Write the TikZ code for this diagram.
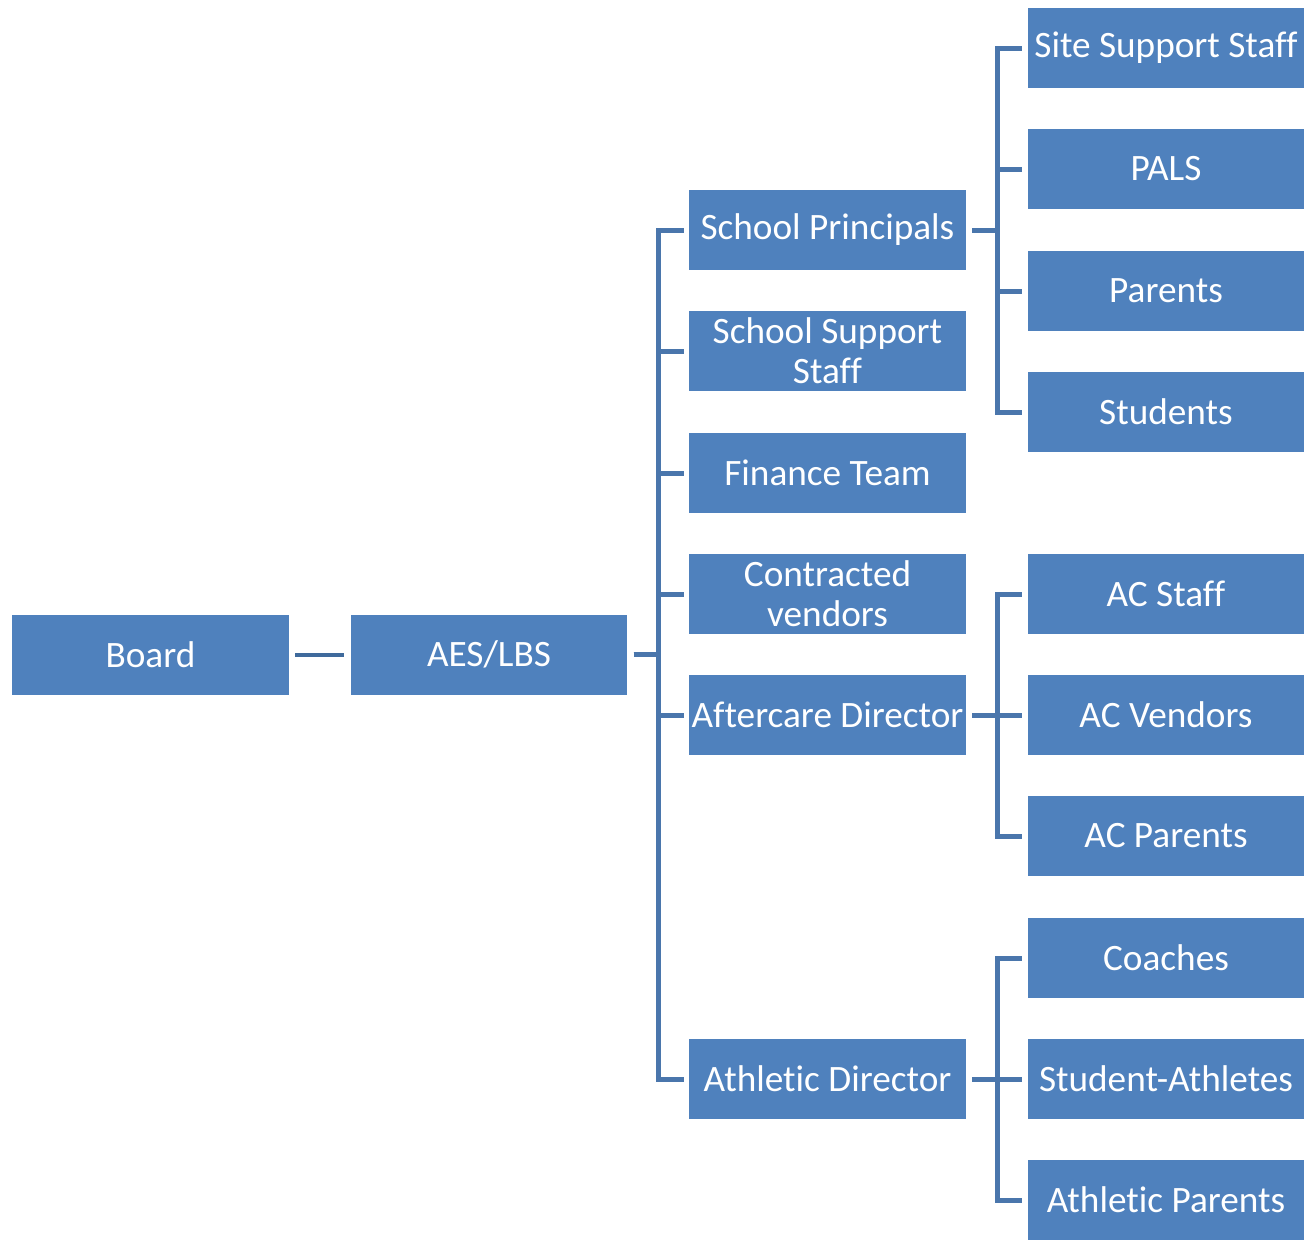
\documentclass[tikz,border=0pt]{standalone}
\usepackage{fontspec}
\setmainfont{Carlito}[Ligatures=CommonOff]
\usetikzlibrary{calc}

\definecolor{boxblue}{HTML}{4F81BD}
\definecolor{lineblue}{HTML}{4A76AC}
\definecolor{darkline}{HTML}{3F6A9C}

\begin{document}
\begin{tikzpicture}
[x=0.02cm,y=-0.02cm,
	every node/.style={shape=rectangle,fill=boxblue,text=white,inner
	sep=0pt,minimum width=5.54cm,minimum height=1.6cm,align=center,
	font=\fontsize{21.2}{22.8}\selectfont},
	conn/.style={draw=lineblue,line width=0.1cm}]
\useasboundingbox (0,0) rectangle (1308,1241);

% first two levels
\node (board) at (150.5,654.5) {Board};
\node (aes) at (489,654.5) {AES/LBS};

% second column
\node (princ) at (827.5,230) {School Principals};
\node (supp) at (827.5,351) {School Support\\Staff};
\node (fin) at (827.5,473) {Finance Team};
\node (vend) at (827.5,594) {Contracted\\vendors};
\node (after) at (827.5,715) {Aftercare Director};
\node (athl) at (827.5,1079) {Athletic Director};

% third column
\node (site) at (1166,48) {Site Support Staff};
\node (pals) at (1166,169) {PALS};
\node (par) at (1166,291) {Parents};
\node (stud) at (1166,412) {Students};
\node (acs) at (1166,594) {AC Staff};
\node (acv) at (1166,715) {AC Vendors};
\node (acp) at (1166,836) {AC Parents};
\node (coach) at (1166,958) {Coaches};
\node (sath) at (1166,1079) {Student-Athletes};
\node (apar) at (1166,1200) {Athletic Parents};

\draw[draw=darkline,line width=0.08cm] ([xshift=0.12cm]board.east) -- ([xshift=-0.12cm]aes.west);

\foreach \startNode/\endNode in {aes/princ,aes/supp,aes/fin,aes/vend,aes/after,aes/athl,
	princ/site,princ/pals,princ/par,princ/stud,
	after/acs,after/acv,after/acp,
	athl/coach,athl/sath,athl/apar}
{
	\draw[conn] ([xshift=0.12cm]\startNode.east) -- ++(25,0) |- ([xshift=-0.1cm]\endNode.west);
}
\end{tikzpicture}
\end{document}
